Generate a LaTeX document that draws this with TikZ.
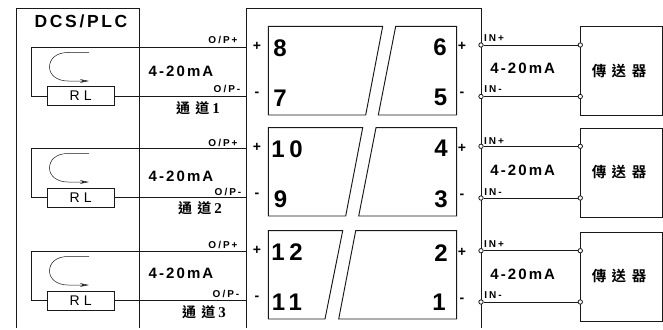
\documentclass[tikz,border=0pt]{standalone}
\usepackage{fontspec}
\usetikzlibrary{arrows.meta}
\setmainfont{Liberation Sans}
\newfontfamily\hdfont[LetterSpace=15]{Liberation Sans Bold}
\newfontfamily\mafont[LetterSpace=14]{Liberation Sans Bold}
\newfontfamily\opfont[LetterSpace=20]{Liberation Sans Bold}
\newfontfamily\rlfont[LetterSpace=30]{Liberation Sans}
\newfontfamily\numfont[LetterSpace=20]{Liberation Sans Bold}
\newfontfamily\cjkfont[LetterSpace=38]{Noto Sans CJK TC Bold}
\newfontfamily\chserif{Liberation Serif Bold}
\definecolor{ink}{gray}{0.1}
\tikzset{
  x=1pt,y=-1pt,
  wire/.style={draw=ink,line width=0.95pt},
  lbl/.style={inner sep=0pt,text=black},
  hd/.style={lbl,font=\hdfont\fontsize{17.5}{18}\selectfont},
  ma/.style={lbl,font=\mafont\fontsize{15}{16}\selectfont},
  op/.style={lbl,font=\opfont\fontsize{10}{11}\selectfont},
  num/.style={lbl,font=\numfont\fontsize{24}{26}\selectfont},
  sgn/.style={lbl,font=\bfseries\fontsize{14}{16}\selectfont},
  ch/.style={lbl,font=\cjkfont\fontsize{14}{15}\selectfont},
  tx/.style={lbl,font=\cjkfont\fontsize{14.5}{16}\selectfont},
  rlbox/.style={wire,rectangle,minimum width=67.5pt,minimum height=19pt,inner sep=0pt,font=\rlfont\fontsize{14}{15}\selectfont},
  txbox/.style={wire,rectangle,minimum width=81.5pt,minimum height=88.5pt,inner sep=0pt},
  term/.style={circle,draw=ink,line width=0.8pt,fill=white,minimum size=4.4pt,inner sep=0pt}
}
\begin{document}
\begin{tikzpicture}
\useasboundingbox (0,0) rectangle (663,329);
% outer frames (open at the bottom)
\draw[wire] (16,328) -- (16,8.5) -- (139,8.5) -- (139,328);
\draw[wire] (246.5,328) -- (246.5,8.5) -- (481,8.5) -- (481,328);
\node[hd] (dcs) at (81,21.5) {DCS/PLC};
% DCS channels
\foreach \i/\t/\b/\ma/\opa/\opb/\opbx/\cx/\cy/\cn in {
  1/47/96/71/39.5/89/227/198/108/1,
  2/148/197.5/176.7/142.7/191.7/228/200/208/2,
  3/251/300.5/273/245/294/226/204/311.7/3}{
  \node[rlbox] (rl\i) at (80.75,\b) {RL};
  \coordinate (lc\i) at (31.5,\t);
  \coordinate (le\i) at (246.5,\t);
  \coordinate (lf\i) at (246.5,\b);
  \draw[wire] (le\i) -- (lc\i) |- (rl\i.west);
  \draw[wire] (rl\i.east) -- (lf\i);
  \draw[draw=ink,line width=0.5pt,-{Stealth[length=9pt,width=3.6pt,open,fill=gray]}]
    (89,\t+5.5) -- (68,\t+5.5) .. controls (56,\t+5.5) and (49.5,\t+12) .. (49.5,\t+20)
    .. controls (49.5,\t+28) and (57,\t+34) .. (68,\t+34) -- (89,\t+34);
  \node[ma] (mal\i) at (181,\ma) {4-20mA};
  \node[op] (opp\i) at (223,\opa) {O/P+};
  \node[op] (opm\i) at (\opbx,\opb) {O/P-};
  \node[ch] (ch\i) at (\cx,\cy) {通道\hspace{3pt}{\chserif\fontsize{15}{15}\selectfont\cn}};
}
% terminal blocks
\draw[wire] (268.3,26.3) -- (382.7,26.3) -- (365.7,115) -- (268.3,115) -- cycle;
\draw[wire] (395.7,26.3) -- (456.7,26.3) -- (456.7,115) -- (378.3,115) -- cycle;
\draw[wire] (268.3,127.7) -- (362.7,127.7) -- (345.7,216) -- (268.3,216) -- cycle;
\draw[wire] (376,127.7) -- (456.7,127.7) -- (456.7,216) -- (358.7,216) -- cycle;
\draw[wire] (268.3,230.7) -- (342.7,230.7) -- (325,319) -- (268.3,319) -- cycle;
\draw[wire] (355.7,230.7) -- (456.7,230.7) -- (456.7,319) -- (338.7,319) -- cycle;
\foreach \n/\x/\y/\s in {n8/280/48/8,n7/280/98/7,n6/440/47/6,n5/440.5/97/5,
  n10/287/149/10,n9/280.5/199/9,n4/441/148/4,n3/441/199/3,
  n12/287/252/12,n11/287/302/11,n2/441/253/2,n1/439/302/1}{
  \node[num] (\n) at (\x,\y) {\s};
}
\foreach \n/\x/\y/\s in {sa/257/46/+,sb/257/94/-,sc/257/147/+,sd/257/195/-,se/257/250/+,sf/257/298/-,
  sg/462/46/+,sh/462/94/-,si/462/148/+,sj/462/196/-,sk/462/252/+,sl/462/300/-}{
  \node[sgn] (\n) at (\x,\y) {\s};
}
% transmitters and field wiring
\foreach \i/\bt/\bb/\p/\m/\ipy/\imy/\ma/\ty in {
  1/26.3/115/45/96.5/38/89/68/70.7,
  2/128/216/146.3/198/140.7/191.7/170.7/172,
  3/232/320/250.7/302/244/295/274/276}{
  \node[txbox,anchor=north west] (tb\i) at (580.3,\bt) {};
  \node[tx] (tt\i) at (619,\ty) {傳送器};
  \node[term] (ap\i) at (481,\p) {};
  \node[term] (am\i) at (481,\m) {};
  \node[term] (bp\i) at (580.3,\p) {};
  \node[term] (bm\i) at (580.3,\m) {};
  \draw[wire] (ap\i) -- (bp\i);
  \draw[wire] (am\i) -- (bm\i);
  \node[op] (ip\i) at (494,\ipy) {IN+};
  \node[op] (im\i) at (493,\imy) {IN-};
  \node[ma] (mar\i) at (522.7,\ma) {4-20mA};
}
\end{tikzpicture}
\end{document}
